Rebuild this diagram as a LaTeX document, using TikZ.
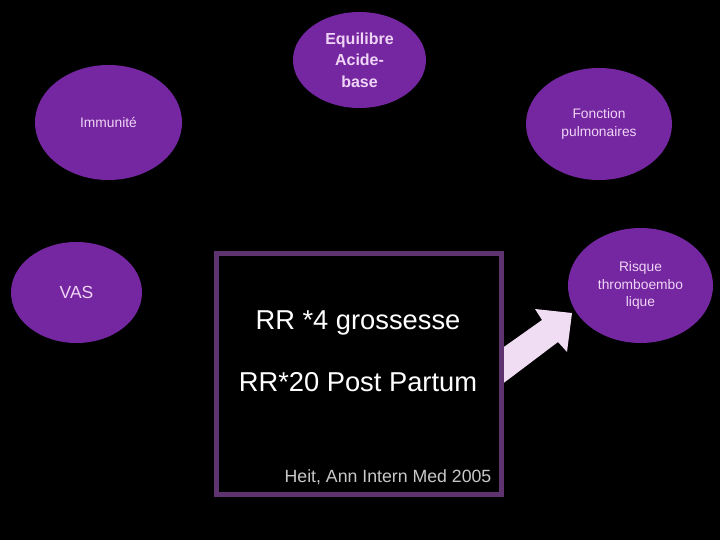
\documentclass[tikz,border=0pt]{standalone}
\usepackage{fontspec}
\setmainfont{Liberation Sans}
\usetikzlibrary{shapes.geometric}
\definecolor{bubble}{HTML}{7427A0}
\definecolor{bubtext}{HTML}{F0D4F5}
\definecolor{boxcol}{HTML}{5E3370}
\definecolor{arrowcol}{HTML}{F0DDF3}
\definecolor{refgray}{HTML}{C8C8C8}
\begin{document}
\begin{tikzpicture}[x=1pt,y=-1pt]
\tikzset{
  bub/.style={ellipse, fill=bubble, inner sep=0pt, align=center, text=bubtext},
  smalltext/.style={font=\fontsize{13.8}{17.5}\selectfont},
  bigtext/.style={text=white, inner sep=0pt, font=\fontsize{27.3}{32}\selectfont}
}
\fill[black] (0,0) rectangle (720,540);
\useasboundingbox (0,0) rectangle (720,540);
\node[bub, minimum width=133pt, minimum height=96pt, font=\fontsize{16}{21.5}\selectfont\bfseries] (eq) at (359.5,60) {Equilibre\\Acide-\\base};
\node[bub, smalltext, minimum width=147pt, minimum height=115pt] (imm) at (108.5,122.5) {Immunité};
\node[bub, smalltext, minimum width=146pt, minimum height=112pt] (fp) at (599,124) {Fonction\\pulmonaires};
\node[bub, smalltext, minimum width=145pt, minimum height=115pt] (rt) at (640.5,285.5) {Risque\\thromboembo\\lique};
\node[bub, minimum width=131pt, minimum height=101pt, font=\fontsize{17.5}{21}\selectfont] (vas) at (76.5,292.5) {VAS};
% block arrow from the box to the Risque bubble
\fill[arrowcol] (501,349) -- (542,320) -- (535,309) -- (572,313) -- (567,352) -- (558,342) -- (501,385) -- cycle;
\node[draw=boxcol, line width=5pt, minimum width=285pt, minimum height=241pt, inner sep=0pt] (box) at (359,374) {};
\node[bigtext] (t1) at (358,323) {RR *4 grossesse};
\node[bigtext] (t2) at (358,382) {RR*20 Post Partum};
\node[text=refgray, inner sep=0pt, font=\fontsize{17.7}{21}\selectfont] (ref) at (388,477) {Heit, Ann Intern Med 2005};
\end{tikzpicture}
\end{document}
